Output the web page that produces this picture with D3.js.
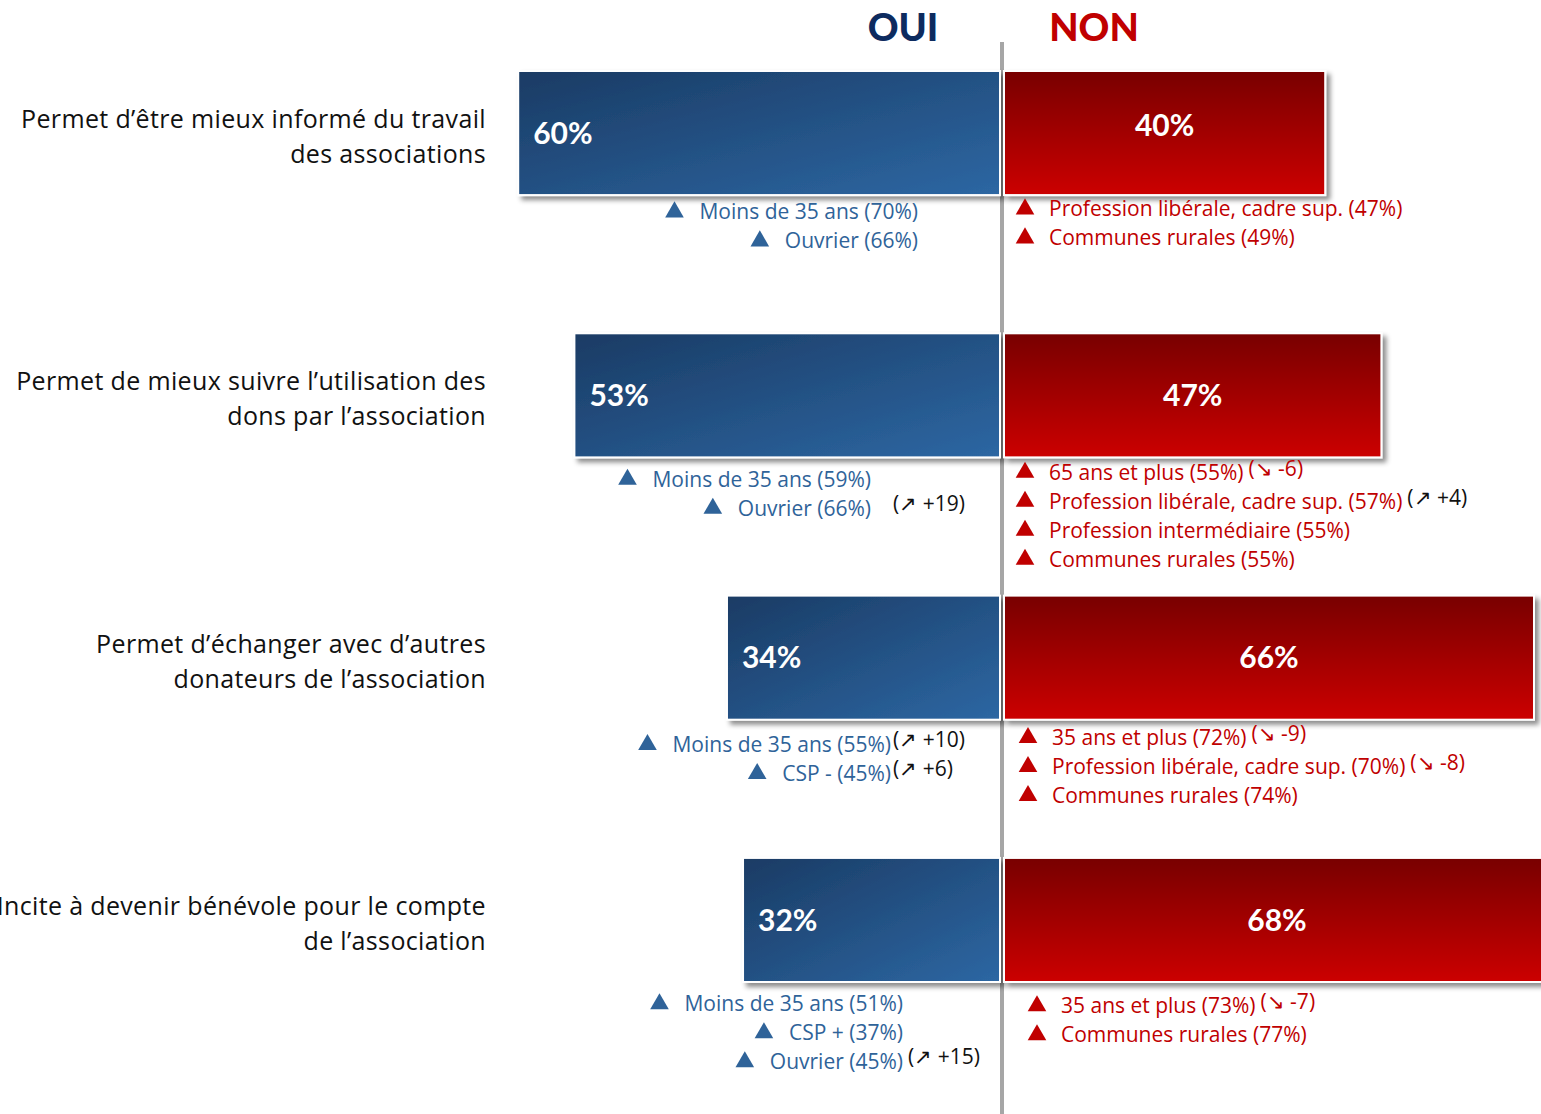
<!DOCTYPE html>
<html lang="fr">
<head>
<meta charset="utf-8">
<script src="https://cdn.jsdelivr.net/npm/d3@7/dist/d3.min.js"></script>
<style>
  html, body { margin: 0; padding: 0; background: #fff; }
  svg { display: block; font-family: "Open Sans", "Noto Sans", sans-serif; }
</style>
</head>
<body>
<svg id="chart" width="1541" height="1114"></svg>
<script>
// Survey items (two-line labels)
const categories = [
  ["Permet d’être mieux informé du travail", "des associations"],
  ["Permet de mieux suivre l’utilisation des", "dons par l’association"],
  ["Permet d’échanger avec d’autres", "donateurs de l’association"],
  ["Incite à devenir bénévole pour le compte", "de l’association"]
];

// Share answering OUI / NON (%)
const ouiValues = [60, 53, 34, 32];
const nonValues = [40, 47, 66, 68];

// Over-represented sub-groups for each answer, with change vs. previous wave
const ouiNotes = [
  [{ label: "Moins de 35 ans", pct: 70 }, { label: "Ouvrier", pct: 66 }],
  [{ label: "Moins de 35 ans", pct: 59 }, { label: "Ouvrier", pct: 66, trend: 19 }],
  [{ label: "Moins de 35 ans", pct: 55, trend: 10 }, { label: "CSP -", pct: 45, trend: 6 }],
  [{ label: "Moins de 35 ans", pct: 51 }, { label: "CSP +", pct: 37 }, { label: "Ouvrier", pct: 45, trend: 15 }]
];
const nonNotes = [
  [{ label: "Profession libérale, cadre sup.", pct: 47 }, { label: "Communes rurales", pct: 49 }],
  [{ label: "65 ans et plus", pct: 55, trend: -6 }, { label: "Profession libérale, cadre sup.", pct: 57, trend: 4 },
   { label: "Profession intermédiaire", pct: 55 }, { label: "Communes rurales", pct: 55 }],
  [{ label: "35 ans et plus", pct: 72, trend: -9 }, { label: "Profession libérale, cadre sup.", pct: 70, trend: -8 },
   { label: "Communes rurales", pct: 74 }],
  [{ label: "35 ans et plus", pct: 73, trend: -7 }, { label: "Communes rurales", pct: 77 }]
];

const headers = ["OUI", "NON"];

// ---- layout ----
const W = 1541, H = 1114;
const axisX = 1002;          // centre of the divider
const gapHalf = 2;           // bars stop short of the divider
const pxPerPct = 8.03;
const ouiEnd = [918, 871, 891, 903];       // right edge of the OUI notes, per row
const ouiTop = [17, 22, 25, 22];           // first OUI note below the bar
const ouiTrendGap = [4, 22, 2, 5];
const nonStart = [1049, 1049, 1052, 1061]; // left edge of the NON notes, per row
const nonTop = [14, 15, 18, 24];           // first NON note below the bar
const lineStep = 29;
const noteSize = 21;

const BLUE_TXT = "#2f6399";
const RED_TXT = "#c00000";
const BOLD_FONT = "Lato, 'Open Sans', sans-serif";

const svg = d3.select("#chart");
const defs = svg.append("defs");

const gBlue = defs.append("linearGradient").attr("id", "gradOui")
  .attr("x1", "0%").attr("y1", "0%").attr("x2", "100%").attr("y2", "100%");
gBlue.append("stop").attr("offset", "0%").attr("stop-color", "#1a3b64");
gBlue.append("stop").attr("offset", "100%").attr("stop-color", "#2d67a3");

const gRed = defs.append("linearGradient").attr("id", "gradNon")
  .attr("x1", "0%").attr("y1", "0%").attr("x2", "0%").attr("y2", "100%");
gRed.append("stop").attr("offset", "0%").attr("stop-color", "#780000");
gRed.append("stop").attr("offset", "100%").attr("stop-color", "#cc0000");

const shadow = defs.append("filter").attr("id", "barShadow")
  .attr("x", "-5%").attr("y", "-10%").attr("width", "115%").attr("height", "130%");
shadow.append("feDropShadow").attr("dx", 4).attr("dy", 4).attr("stdDeviation", 2.5)
  .attr("flood-color", "#000").attr("flood-opacity", 0.45);

// Scales
const x = d3.scaleLinear().domain([0, 100]).range([0, 100 * pxPerPct]);
const y = d3.scaleBand().domain(d3.range(categories.length))
  .range([71, 982]).paddingInner(0.527).paddingOuter(0);

// Divider
svg.append("line")
  .attr("x1", axisX).attr("x2", axisX).attr("y1", 42).attr("y2", H)
  .attr("stroke", "#a6a6a6").attr("stroke-width", 4);

// Headers
svg.selectAll("text.header").data(headers).join("text")
  .attr("class", "header")
  .attr("x", (d, i) => i === 0 ? 903 : 1094)
  .attr("y", 41)
  .attr("text-anchor", "middle")
  .attr("font-family", BOLD_FONT)
  .attr("font-size", 38).attr("font-weight", 900)
  .attr("fill", (d, i) => i === 0 ? "#0d2b5f" : RED_TXT)
  .text(d => d);

const rows = svg.selectAll("g.row").data(categories).join("g").attr("class", "row");

// OUI bars (grow left from the divider)
rows.append("rect")
  .attr("x", (d, i) => axisX - gapHalf - x(ouiValues[i]))
  .attr("y", (d, i) => y(i))
  .attr("width", (d, i) => x(ouiValues[i]))
  .attr("height", y.bandwidth())
  .attr("fill", "url(#gradOui)")
  .attr("stroke", "#fff").attr("stroke-width", 2)
  .attr("filter", "url(#barShadow)");

// NON bars (grow right)
rows.append("rect")
  .attr("x", axisX + gapHalf)
  .attr("y", (d, i) => y(i))
  .attr("width", (d, i) => x(nonValues[i]))
  .attr("height", y.bandwidth())
  .attr("fill", "url(#gradNon)")
  .attr("stroke", "#fff").attr("stroke-width", 2)
  .attr("filter", "url(#barShadow)");

// Value labels
rows.append("text")
  .attr("x", (d, i) => axisX - gapHalf - x(ouiValues[i]) + 15)
  .attr("y", (d, i) => y(i) + y.bandwidth() / 2)
  .attr("dy", "0.36em")
  .attr("font-family", BOLD_FONT)
  .attr("font-size", 30).attr("font-weight", 700).attr("fill", "#fff")
  .text((d, i) => ouiValues[i] + "%");

rows.append("text")
  .attr("x", (d, i) => axisX + gapHalf + x(nonValues[i]) / 2)
  .attr("y", (d, i) => y(i) + y.bandwidth() / 2 - (i === 0 ? 8 : 0))
  .attr("dy", "0.36em")
  .attr("text-anchor", "middle")
  .attr("font-family", BOLD_FONT)
  .attr("font-size", 30).attr("font-weight", 700).attr("fill", "#fff")
  .text((d, i) => nonValues[i] + "%");

// Category labels
rows.append("text")
  .attr("x", 486)
  .attr("y", (d, i) => y(i) + y.bandwidth() / 2 + 4)
  .attr("text-anchor", "end")
  .attr("font-size", 25).attr("letter-spacing", 0.35).attr("fill", "#111")
  .selectAll("tspan").data(d => d).join("tspan")
  .attr("x", 486)
  .attr("dy", (d, j) => j === 0 ? "-0.36em" : "1.4em")
  .text(d => d);

const tri = d3.symbol().type(d3.symbolTriangle).size(150);
const trendText = t => t > 0 ? `(\u2197 +${t})` : `(\u2198 ${t})`;

rows.each(function (d, i) {
  const g = d3.select(this);
  const bottom = y(i) + y.bandwidth();

  // OUI notes: right-aligned, triangle before text
  ouiNotes[i].forEach((n, k) => {
    const cy = bottom + ouiTop[i] + k * lineStep;
    const t = g.append("text")
      .attr("x", ouiEnd[i]).attr("y", cy).attr("dy", "0.35em")
      .attr("text-anchor", "end")
      .attr("font-size", noteSize).attr("fill", BLUE_TXT)
      .text(`${n.label} (${n.pct}%)`);
    const w = t.node().getComputedTextLength();
    g.append("path").attr("d", tri)
      .attr("transform", `translate(${ouiEnd[i] - w - 25},${cy})`)
      .attr("fill", BLUE_TXT);
    if (n.trend !== undefined) {
      g.append("text")
        .attr("x", ouiEnd[i] + ouiTrendGap[i]).attr("y", cy - 5).attr("dy", "0.35em")
        .attr("font-size", noteSize).attr("fill", n.trend > 0 ? "#111" : RED_TXT)
        .text(trendText(n.trend));
    }
  });

  // NON notes: left-aligned, triangle before text
  nonNotes[i].forEach((n, k) => {
    const cy = bottom + nonTop[i] + k * lineStep;
    g.append("path").attr("d", tri)
      .attr("transform", `translate(${nonStart[i] - 24},${cy})`)
      .attr("fill", RED_TXT);
    const t = g.append("text")
      .attr("x", nonStart[i]).attr("y", cy).attr("dy", "0.35em")
      .attr("font-size", noteSize).attr("fill", RED_TXT);
    t.append("tspan").text(`${n.label} (${n.pct}%)`);
    if (n.trend !== undefined) {
      t.append("tspan").attr("dx", 5).attr("dy", -4)
        .attr("fill", n.trend > 0 ? "#111" : RED_TXT)
        .text(trendText(n.trend));
    }
  });
});
</script>
</body>
</html>
